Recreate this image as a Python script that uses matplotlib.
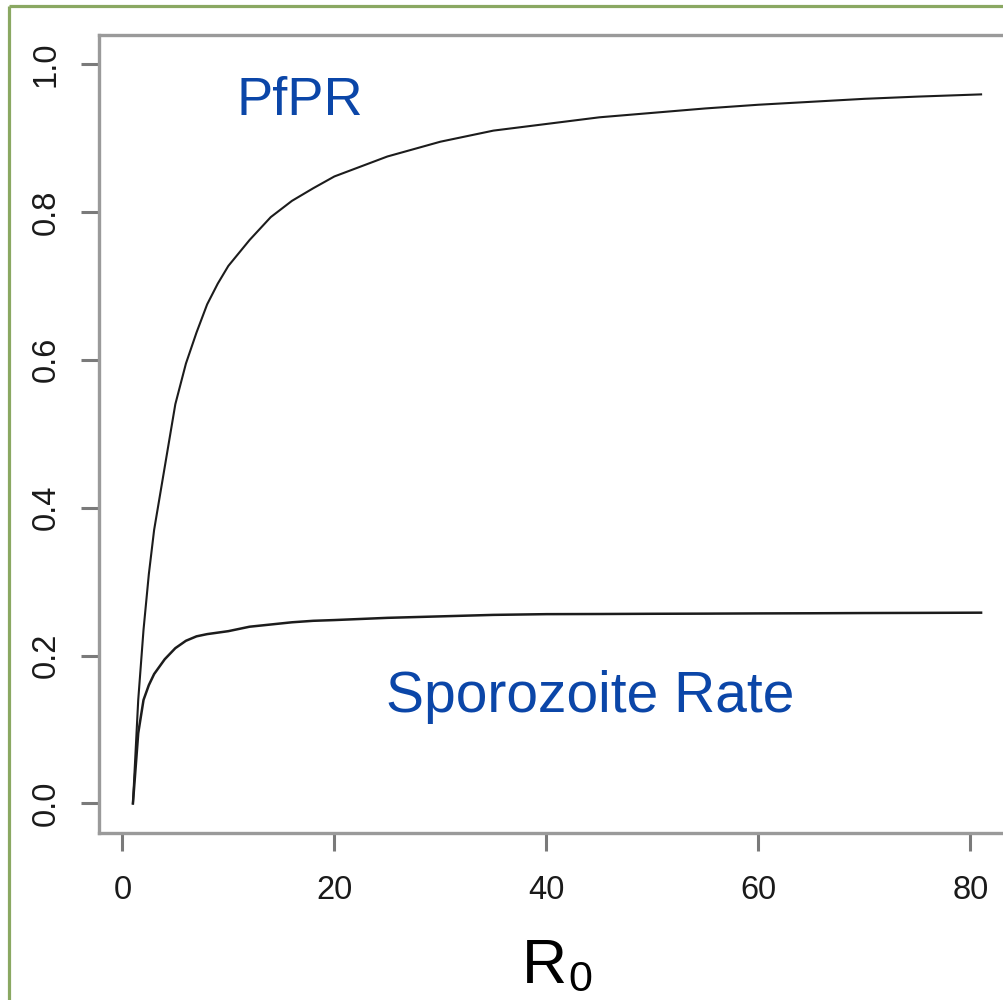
import matplotlib
matplotlib.use("Agg")
import matplotlib.pyplot as plt
from matplotlib.lines import Line2D

# Basic reproduction number
r0 = [1, 1.5, 2, 2.5, 3, 4, 5, 6, 7, 8, 9, 10, 12, 14, 16, 18, 20,
      25, 30, 35, 40, 45, 50, 55, 60, 65, 70, 75, 81]

# Parasite prevalence in humans
pfpr = [0.0, 0.14, 0.235, 0.31, 0.37, 0.455, 0.54, 0.595, 0.637, 0.675,
        0.703, 0.727, 0.762, 0.793, 0.815, 0.832, 0.848,
        0.875, 0.895, 0.910, 0.919, 0.928, 0.934, 0.940, 0.945, 0.949,
        0.953, 0.956, 0.959]

# Fraction of mosquitoes with sporozoites
sporozoite = [0.0, 0.095, 0.14, 0.16, 0.175, 0.195, 0.21, 0.22, 0.226, 0.229,
              0.231, 0.233, 0.239, 0.242, 0.245, 0.247, 0.248,
              0.251, 0.253, 0.255, 0.256, 0.2562, 0.2565, 0.2567, 0.257, 0.2572,
              0.2575, 0.2577, 0.258]

x_ticks = [0, 20, 40, 60, 80]
x_tick_labels = ["0", "20", "40", "60", "80"]
y_ticks = [0.0, 0.2, 0.4, 0.6, 0.8, 1.0]
y_tick_labels = ["0.0", "0.2", "0.4", "0.6", "0.8", "1.0"]

W, H, DPI = 1004, 1000, 100
plt.rcParams["font.family"] = ["Liberation Sans", "DejaVu Sans"]

fig = plt.figure(figsize=(W / DPI, H / DPI), dpi=DPI)
fig.patch.set_facecolor("white")

# green frame around the panel
frame_col = "#8aa862"
fig.add_artist(Line2D([9 / W, 9 / W], [0, 1 - 6 / H], transform=fig.transFigure,
                      color=frame_col, lw=2.3, solid_capstyle="butt"))
fig.add_artist(Line2D([9 / W, 1], [1 - 6 / H, 1 - 6 / H], transform=fig.transFigure,
                      color=frame_col, lw=2.3, solid_capstyle="butt"))

ax = fig.add_axes([99 / W, 1 - 833 / H, (1015 - 99) / W, (833 - 34.5) / H])
ax.set_facecolor("white")

line_col = "#1c1c1c"
ax.plot(r0, pfpr, color=line_col, lw=1.5)
ax.plot(r0, sporozoite, color=line_col, lw=1.8)

ax.set_xlim(-2.2, 84.2)
ax.set_ylim(-0.04, 1.04)

for s in ax.spines.values():
    s.set_color("#9a9a9a")
    s.set_linewidth(2.4)

ax.set_xticks(x_ticks)
ax.set_xticklabels(x_tick_labels)
ax.set_yticks(y_ticks)
ax.set_yticklabels(y_tick_labels, rotation=90, va="center")
ax.tick_params(length=13, width=2.2, color="#7a7a7a",
               labelsize=23.5, labelcolor="#1a1a1a")
ax.tick_params(axis="x", pad=17)
ax.tick_params(axis="y", pad=14)

blue = "#0b46a8"
ax.text(10.8, 0.931, "PfPR", fontsize=39, color=blue, va="baseline", ha="left")
ax.text(24.9, 0.123, "Sporozoite Rate", fontsize=41, color=blue,
        va="baseline", ha="left")

# x-axis title R0 with subscript
fig.text(522 / W, 1 - 983 / H, "R", fontsize=45, color="black",
         va="baseline", ha="left")
fig.text(568 / W, 1 - 991 / H, "0", fontsize=31, color="black",
         va="baseline", ha="left")

fig.savefig("out.png", dpi=DPI, facecolor="white")
